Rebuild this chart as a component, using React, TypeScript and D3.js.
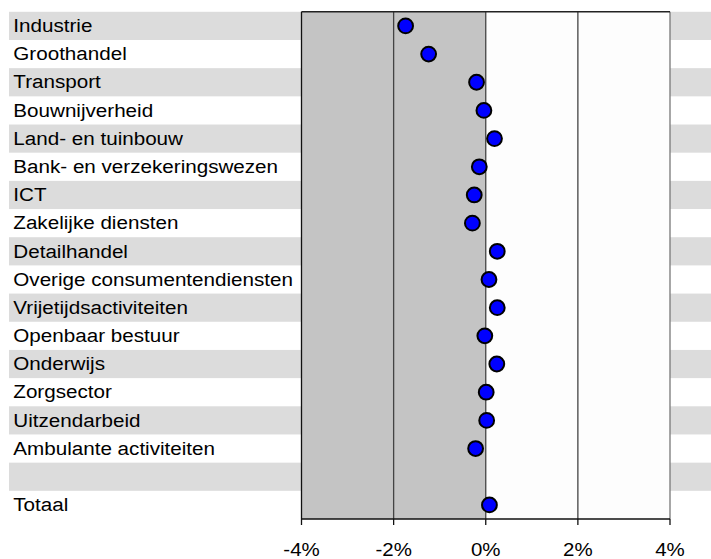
import React from "react";
import * as d3 from "d3";

const categories = [
  "Industrie",
  "Groothandel",
  "Transport",
  "Bouwnijverheid",
  "Land- en tuinbouw",
  "Bank- en verzekeringswezen",
  "ICT",
  "Zakelijke diensten",
  "Detailhandel",
  "Overige consumentendiensten",
  "Vrijetijdsactiviteiten",
  "Openbaar bestuur",
  "Onderwijs",
  "Zorgsector",
  "Uitzendarbeid",
  "Ambulante activiteiten",
  "",
  "Totaal",
];

const values: (number | null)[] = [
  -1.74, -1.24, -0.2, -0.04, 0.19, -0.14, -0.25, -0.29, 0.25, 0.07, 0.25,
  -0.02, 0.24, 0.01, 0.02, -0.22, null, 0.08,
];

const tickValues = [-4, -2, 0, 2, 4];
const tickLabels = ["-4%", "-2%", "0%", "2%", "4%"];

const W = 711;
const H = 559;
const plotLeft = 301.5;
const plotRight = 670;
const plotTop = 11.8;
const plotBottom = 519;

export default function App() {
  const x = d3.scaleLinear().domain([-4, 4]).range([plotLeft, plotRight]);
  const y = d3
    .scaleBand<number>()
    .domain(categories.map((_, i) => i))
    .range([plotTop, plotBottom])
    .padding(0);
  const bw = y.bandwidth();
  const font = "'Liberation Sans', Arial, sans-serif";

  return (
    <svg
      width={W}
      height={H}
      style={{ position: "absolute", left: 0, top: 0, background: "#fff" }}
    >
      {categories.map((_, i) =>
        i % 2 === 0 ? (
          <rect
            key={"b" + i}
            x={9}
            y={y(i)!}
            width={W - 9}
            height={bw}
            fill="#dcdcdc"
          />
        ) : null
      )}
      <rect
        x={plotLeft}
        y={plotTop}
        width={plotRight - plotLeft}
        height={plotBottom - plotTop}
        fill="#fdfdfd"
      />
      <rect
        x={plotLeft}
        y={plotTop}
        width={x(0) - plotLeft}
        height={plotBottom - plotTop}
        fill="#c4c4c4"
      />
      {tickValues
        .filter((t) => t !== -4 && t !== 4)
        .map((t) => (
          <line
            key={"g" + t}
            x1={x(t)}
            x2={x(t)}
            y1={plotTop}
            y2={plotBottom}
            stroke="#444"
            strokeWidth={1.3}
          />
        ))}
      <line
        x1={plotRight}
        x2={plotRight}
        y1={plotTop}
        y2={plotBottom}
        stroke="#777"
        strokeWidth={1.3}
      />
      <line
        x1={plotLeft}
        x2={plotRight}
        y1={plotTop}
        y2={plotTop}
        stroke="#222"
        strokeWidth={1.5}
      />
      <line
        x1={plotLeft}
        x2={plotLeft}
        y1={plotTop}
        y2={plotBottom}
        stroke="#111"
        strokeWidth={1.3}
      />
      <line
        x1={plotLeft}
        x2={plotRight}
        y1={plotBottom}
        y2={plotBottom}
        stroke="#111"
        strokeWidth={1.3}
      />
      {tickValues.map((t, i) => (
        <g key={"t" + t}>
          <line
            x1={x(t)}
            x2={x(t)}
            y1={plotBottom}
            y2={plotBottom + 6}
            stroke="#111"
            strokeWidth={1.3}
          />
          <text
            transform={`translate(${x(t)},${plotBottom + 37}) scale(1.1,1)`}
            textAnchor="middle"
            fontFamily={font}
            fontSize={18.6}
            fill="#000"
          >
            {tickLabels[i]}
          </text>
        </g>
      ))}
      {categories.map((c, i) => (
        <text
          key={"l" + i}
          transform={`translate(13.3,${y(i)! + bw / 2 + 6.2}) scale(1.11,1)`}
          fontFamily={font}
          fontSize={18.6}
          fill="#000"
        >
          {c}
        </text>
      ))}
      {values.map((v, i) =>
        v === null ? null : (
          <circle
            key={"d" + i}
            cx={x(v)}
            cy={y(i)! + bw / 2}
            r={7.4}
            fill="#0000ff"
            stroke="#000"
            strokeWidth={2}
          />
        )
      )}
    </svg>
  );
}
